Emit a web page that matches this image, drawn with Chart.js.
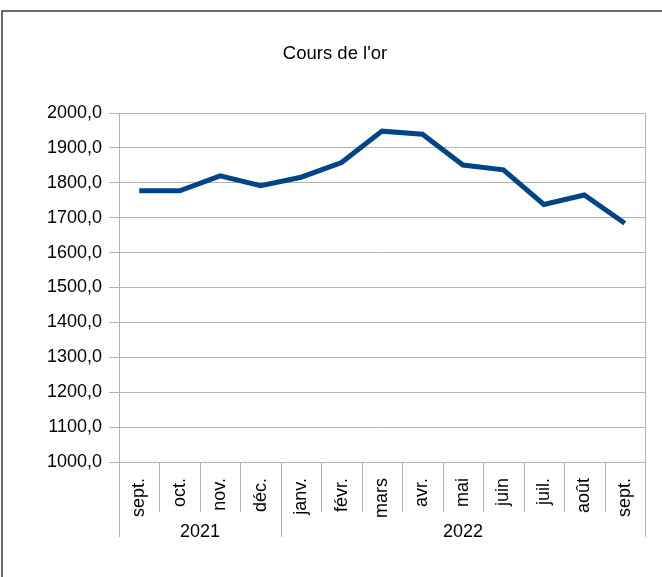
<!DOCTYPE html>
<html lang="fr">
<head>
<meta charset="utf-8">
<title>Cours de l'or</title>
<script src="https://cdn.jsdelivr.net/npm/chart.js@4/dist/chart.umd.min.js"></script>
<style>
  html, body {
    margin: 0;
    padding: 0;
    background: #ffffff;
  }

  #wrap {
    width: 662px;
    height: 577px;
  }
</style>
</head>
<body>
<div id="wrap">
  <canvas id="goldChart" width="662" height="577"></canvas>
</div>

<script>
// ======================================
// Adatok
// ======================================

const chartTitle = "Cours de l'or";

const months = [
  "sept.", "oct.", "nov.", "déc.",
  "janv.", "févr.", "mars", "avr.", "mai", "juin", "juil.", "août", "sept."
];

const years = ["2021", "2022"];
const yearSpans = [4, 9];

const prices = [
  1777, 1777, 1820, 1792,
  1816, 1858, 1948, 1939, 1851, 1837, 1738, 1765, 1684
];


// ======================================
// Stílus
// ======================================

const fontFamily = "'Liberation Sans', Arial, sans-serif";
const gridColor = "#b3b3b3";
const lineColor = "#004586";


// ======================================
// Keret, cím, elválasztók, évek
// ======================================

const framePlugin = {
  id: "framePlugin",
  beforeDraw(chart) {
    const ctx = chart.ctx;

    ctx.save();
    ctx.strokeStyle = "#3a3a3a";
    ctx.lineWidth = 1.5;
    ctx.beginPath();
    ctx.moveTo(2, 700);
    ctx.lineTo(2, 11);
    ctx.lineTo(700, 11);
    ctx.stroke();

    // cím
    ctx.fillStyle = "#000000";
    ctx.font = "18.5px " + fontFamily;
    ctx.textAlign = "center";
    ctx.textBaseline = "middle";
    ctx.fillText(chartTitle, 335, 54);
    ctx.restore();
  },
  afterDraw(chart) {
    const ctx = chart.ctx;
    const area = chart.chartArea;
    const xScale = chart.scales.x;
    const step = (area.right - area.left) / months.length;
    const monthBottom = area.bottom + 50;
    const yearBottom = area.bottom + 75;

    ctx.save();
    ctx.strokeStyle = gridColor;
    ctx.lineWidth = 1;

    // jobb oldali keret
    ctx.beginPath();
    ctx.moveTo(Math.round(area.right) + 0.5, area.top);
    ctx.lineTo(Math.round(area.right) + 0.5, yearBottom);
    ctx.stroke();

    // bal oldali tengely lefelé
    ctx.beginPath();
    ctx.moveTo(Math.round(area.left) + 0.5, area.bottom);
    ctx.lineTo(Math.round(area.left) + 0.5, yearBottom);
    ctx.stroke();

    // hónapok közti elválasztók
    for (let i = 1; i < months.length; i++) {
      const x = Math.round(xScale.getPixelForValue(i) - step / 2) + 0.5;

      ctx.beginPath();
      ctx.moveTo(x, area.bottom);
      ctx.lineTo(x, monthBottom);
      ctx.stroke();
    }

    // évek
    ctx.fillStyle = "#000000";
    ctx.font = "18px " + fontFamily;
    ctx.textAlign = "center";
    ctx.textBaseline = "middle";

    let start = 0;

    years.forEach((year, index) => {
      const end = start + yearSpans[index];
      const x0 = xScale.getPixelForValue(start) - step / 2;
      const x1 = xScale.getPixelForValue(end - 1) + step / 2;

      if (index > 0) {
        const x = Math.round(x0) + 0.5;

        ctx.beginPath();
        ctx.moveTo(x, area.bottom);
        ctx.lineTo(x, yearBottom);
        ctx.stroke();
      }

      ctx.fillText(year, (x0 + x1) / 2, area.bottom + 70);
      start = end;
    });

    ctx.restore();
  }
};


// ======================================
// Diagram
// ======================================

new Chart(document.getElementById("goldChart"), {
  type: "line",
  data: {
    labels: months,
    datasets: [
      {
        label: chartTitle,
        data: prices,
        borderColor: lineColor,
        backgroundColor: lineColor,
        borderWidth: 5,
        pointRadius: 0,
        tension: 0,
        fill: false
      }
    ]
  },
  options: {
    responsive: false,
    animation: false,
    layout: {
      padding: {
        left: 0,
        right: 17,
        top: 113,
        bottom: 0
      }
    },
    plugins: {
      legend: {
        display: false
      },
      tooltip: {
        enabled: false
      },
      title: {
        display: false
      }
    },
    scales: {
      x: {
        offset: true,
        grid: {
          display: false
        },
        border: {
          display: false
        },
        ticks: {
          autoSkip: false,
          minRotation: 90,
          maxRotation: 90,
          padding: 8,
          color: "#000000",
          font: {
            family: fontFamily,
            size: 18
          }
        },
        afterFit: (scale) => {
          scale.height = 115;
        }
      },
      y: {
        min: 1000,
        max: 2000,
        grid: {
          color: gridColor,
          tickLength: 10
        },
        border: {
          color: gridColor
        },
        ticks: {
          stepSize: 100,
          padding: 7,
          color: "#000000",
          font: {
            family: fontFamily,
            size: 18
          },
          callback: (value) => value.toFixed(1).replace(".", ",")
        },
        afterFit: (scale) => {
          scale.width = 119;
        }
      }
    }
  },
  plugins: [framePlugin]
});
</script>
</body>
</html>
